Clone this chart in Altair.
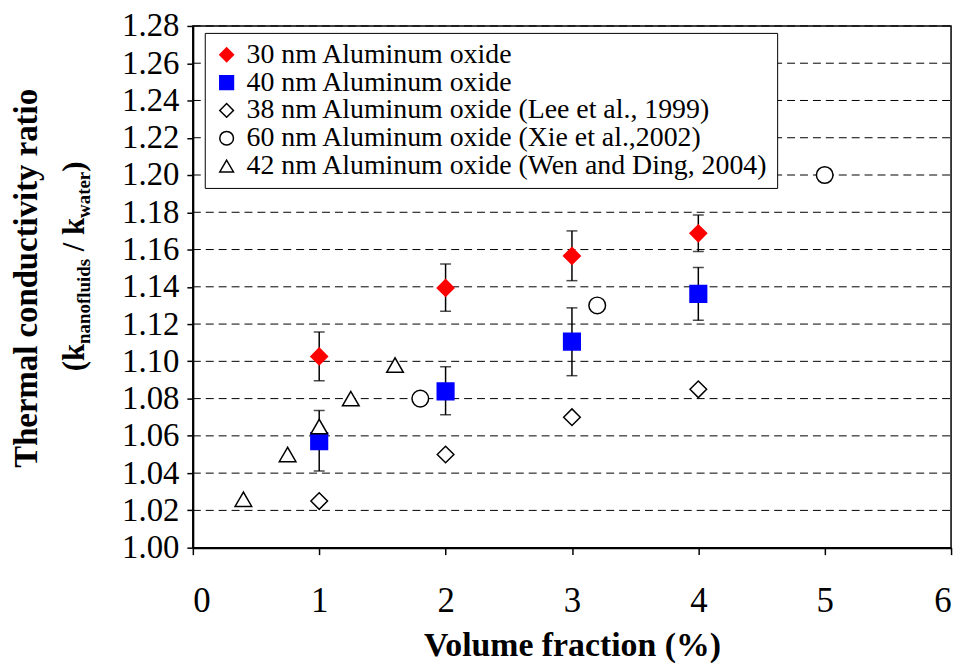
import altair as alt
import pandas as pd

# ---------------- data ----------------
series_names = [
    "30 nm Aluminum oxide",
    "40 nm Aluminum oxide",
    "38 nm Aluminum oxide (Lee et al., 1999)",
    "60 nm Aluminum oxide (Xie et al.,2002)",
    "42 nm Aluminum oxide (Wen and Ding, 2004)",
]

x30 = [1, 2, 3, 4]
y30 = [1.1026, 1.1394, 1.1566, 1.1687]
lo30 = [1.0896, 1.1269, 1.1433, 1.1589]
hi30 = [1.1157, 1.1522, 1.1700, 1.1785]

x40 = [1, 2, 3, 4]
y40 = [1.0572, 1.0839, 1.1106, 1.1362]
lo40 = [1.0411, 1.0713, 1.0923, 1.1220]
hi40 = [1.0736, 1.0971, 1.1287, 1.1504]

x_lee = [1, 2, 3, 4]
y_lee = [1.025, 1.050, 1.070, 1.085]

x_xie = [1.8, 3.2, 5.0]
y_xie = [1.080, 1.130, 1.200]

x_wen = [0.4, 0.75, 1.0, 1.25, 1.6]
y_wen = [1.026, 1.050, 1.065, 1.080, 1.098]

x_ticks = [0, 1, 2, 3, 4, 5, 6]
y_ticks = [1.00, 1.02, 1.04, 1.06, 1.08, 1.10, 1.12, 1.14, 1.16, 1.18,
           1.20, 1.22, 1.24, 1.26, 1.28]

x_title = "Volume fraction (%)"
y_title_line1 = "Thermal conductivity ratio"
# (text, is_subscript, leading gap in em of main font)
y_title_line2 = [("(k", False, 0.0), ("nanofluids", True, 0.0), ("/", False, 0.25),
                 ("k", False, 0.25), ("water", True, 0.0), (")", False, 0.0)]

# ---------------- tables ----------------
rows = []
for name, xs, ys in [
    (series_names[0], x30, y30),
    (series_names[1], x40, y40),
    (series_names[2], x_lee, y_lee),
    (series_names[3], x_xie, y_xie),
    (series_names[4], x_wen, y_wen),
]:
    for a, b in zip(xs, ys):
        rows.append({"series": name, "x": a, "y": b})
pts = pd.DataFrame(rows)

err_rows = []
for xs, lo, hi in [(x30, lo30, hi30), (x40, lo40, hi40)]:
    for a, l, h in zip(xs, lo, hi):
        err_rows.append({"x": a, "lo": l, "hi": h})
err = pd.DataFrame(err_rows)
caps = pd.concat([
    err[["x", "lo"]].rename(columns={"lo": "v"}),
    err[["x", "hi"]].rename(columns={"hi": "v"}),
])
grid_df = pd.DataFrame({"g": y_ticks})

# ---------------- styles ----------------
FONT = "Liberation Serif"
shapes = ["diamond", "square", "diamond", "circle", "triangle-up"]
fills = ["#ff0000", "#0000ff", "#ffffff", "#ffffff", "#ffffff"]
strokes = ["#ff0000", "#0000ff", "#000000", "#000000", "#000000"]

W, H = 763, 525
LEFT, TOP = 186, 16
PX0, PY0 = 8 + LEFT, 8 + TOP  # page position of plot origin

xscale = alt.Scale(domain=[0, 6], nice=False, zero=False)
yscale = alt.Scale(domain=[1.0, 1.28], nice=False, zero=False)

x_axis = alt.Axis(values=x_ticks, grid=False, format="d",
                  tickCount=len(x_ticks) + 2,
                  labelFont=FONT, labelFontSize=35,
                  labelPadding=29, tickSize=7, tickColor="black",
                  tickWidth=1.5, domainColor="black", domainWidth=2,
                  labelColor="black", labelOverlap=False,
                  titleFont=FONT, titleFontSize=34,
                  titleFontWeight="bold", titleColor="black",
                  titlePadding=11)
y_axis = alt.Axis(values=y_ticks, format=".2f", grid=False,
                  tickCount=len(y_ticks) + 2,
                  labelOverlap=False,
                  labelFont=FONT, labelFontSize=33,
                  labelColor="black",
                  labelPadding=8, tickSize=6, tickColor="black",
                  tickWidth=1.5, domainColor="black",
                  domainWidth=2)

grid = alt.Chart(grid_df).mark_rule(color="black", strokeWidth=1,
                                    strokeDash=[8, 5]).encode(
    y=alt.Y("g:Q", scale=yscale, title=None, axis=y_axis),
    x=alt.value(0), x2=alt.value(W),
)

rules = alt.Chart(err).mark_rule(color="black", strokeWidth=1.5).encode(
    x=alt.X("x:Q", scale=xscale, title=x_title, axis=x_axis),
    y=alt.Y("lo:Q", scale=yscale, title=None),
    y2="hi:Q",
)
cap_layer = alt.Chart(caps).mark_tick(
    color="black", orient="horizontal", size=11, thickness=1.5
).encode(
    x=alt.X("x:Q", scale=xscale, title=x_title),
    y=alt.Y("v:Q", scale=yscale, title=None),
)

leg = alt.Legend(title=None, labelFont=FONT)
points = alt.Chart(pts).mark_point(filled=False, strokeWidth=1.5, opacity=1,
                                   size=280).encode(
    x=alt.X("x:Q", scale=xscale, title=x_title),
    y=alt.Y("y:Q", scale=yscale, title=None),
    shape=alt.Shape("series:N", scale=alt.Scale(domain=series_names, range=shapes),
                    legend=leg),
    fill=alt.Fill("series:N", scale=alt.Scale(domain=series_names, range=fills),
                  legend=leg),
    stroke=alt.Stroke("series:N", scale=alt.Scale(domain=series_names, range=strokes),
                      legend=leg),
)

# ---------------- y title as text pieces ----------------
one = pd.DataFrame({"a": [0]})
TB = {"(": .333, ")": .333, "k": .556, "n": .556, "a": .5, "o": .5, "f": .333,
      "l": .278, "u": .556, "i": .278, "d": .556, "s": .389, " ": .25,
      "/": .278, "w": .722, "t": .333, "e": .444, "r": .444}
MAIN, SUB = 31, 19
title_layers = [
    alt.Chart(one).mark_text(
        text=y_title_line1, angle=270, font=FONT, fontSize=33,
        fontWeight="bold", align="center", baseline="alphabetic", color="black"
    ).encode(x=alt.value(37 - PX0), y=alt.value(278 - PY0))
]


def piece_w(s, sub):
    return sum(TB.get(c, .5) for c in s) * (SUB if sub else MAIN)


total = sum(piece_w(s, sub) + gap * MAIN for s, sub, gap in y_title_line2)
ypos = 266 - PY0 + total / 2
for s, sub, gap in y_title_line2:
    ypos -= gap * MAIN
    title_layers.append(
        alt.Chart(one).mark_text(
            text=s, angle=270, font=FONT, fontSize=SUB if sub else MAIN,
            fontWeight="bold", align="left", baseline="alphabetic", color="black"
        ).encode(x=alt.value((91 if sub else 84) - PX0), y=alt.value(ypos))
    )
    ypos -= piece_w(s, sub)

chart = alt.layer(grid, rules, cap_layer, points, *title_layers).properties(
    width=W, height=H,
    autosize=alt.AutoSizeParams(type="none"),
    padding={"left": LEFT, "top": TOP, "right": 10, "bottom": 114},
    background="white",
).configure(
    font=FONT
).configure_view(
    stroke="black", strokeWidth=1.5
).configure_legend(
    orient="none", legendX=206 - PX0, legendY=31 - PY0,
    labelFont=FONT, labelFontSize=28, labelColor="black",
    labelLimit=1000, symbolSize=190, symbolStrokeWidth=1.5,
    strokeColor="black", fillColor="white", padding=8,
    rowPadding=0, labelOffset=6,
)

chart.save("out.html", embed_options={"renderer": "svg", "actions": False})
